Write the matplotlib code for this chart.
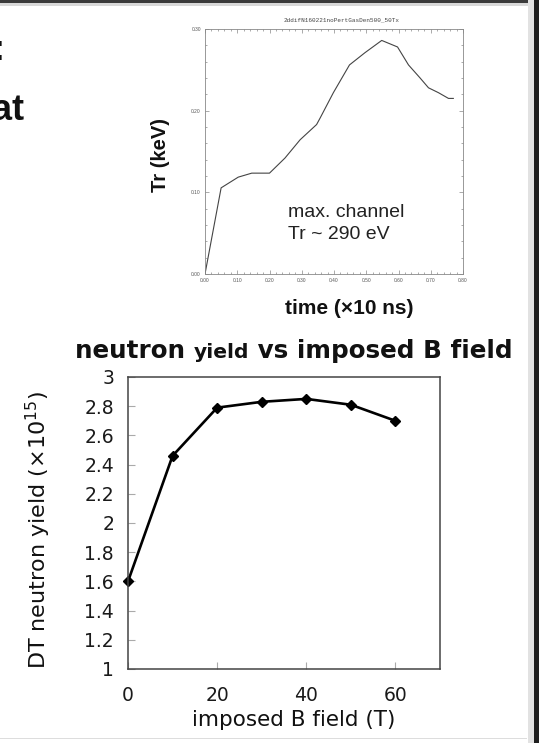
import matplotlib
matplotlib.use('Agg')
import matplotlib.pyplot as plt
from matplotlib.patches import Rectangle
from matplotlib.ticker import MultipleLocator, FormatStrFormatter
import numpy as np

plt.rcParams['font.family'] = ['Liberation Sans', 'DejaVu Sans']

# radiation temperature in the max. channel
time_10ns = [0.0, 0.05, 0.103, 0.145, 0.20, 0.248, 0.295, 0.346, 0.357, 0.398,
             0.448, 0.496, 0.548, 0.597, 0.631, 0.667, 0.693, 0.724, 0.755, 0.77]
tr_kev = [0.0, 0.1055, 0.1186, 0.1235, 0.1235, 0.142, 0.1644, 0.183, 0.191, 0.222,
          0.256, 0.271, 0.286, 0.278, 0.256, 0.240, 0.228, 0.222, 0.215, 0.215]

# neutron yield vs imposed field
b_field = [0, 10, 20, 30, 40, 50, 60]
dt_yield = [1.60, 2.46, 2.79, 2.83, 2.85, 2.81, 2.70]

W, H = 539, 743
fig = plt.figure(figsize=(W / 100, H / 100), dpi=100)


def fx(px):
    return px / W


def fy(py):
    return 1 - py / H


# ---- top panel (simulation output) ----
ax1 = fig.add_axes([fx(205), fy(274), fx(463) - fx(205), fy(29) - fy(274)])
ax1.plot(time_10ns, tr_kev, color='#444444', linewidth=0.8)
ax1.set_xlim(0, 0.8)
ax1.set_ylim(0, 0.3)
ax1.xaxis.set_major_locator(MultipleLocator(0.1))
ax1.xaxis.set_minor_locator(MultipleLocator(0.02))
ax1.yaxis.set_major_locator(MultipleLocator(0.1))
ax1.yaxis.set_minor_locator(MultipleLocator(0.02))
ax1.xaxis.set_major_formatter(FormatStrFormatter('%.2f'))
ax1.yaxis.set_major_formatter(FormatStrFormatter('%.2f'))
ax1.tick_params(which='both', direction='in', top=True, right=True,
                color='#888888', width=0.5, labelsize=3.5, labelcolor='#555555', pad=3)
ax1.tick_params(which='major', length=3)
ax1.tick_params(which='minor', length=1.5)
for s in ax1.spines.values():
    s.set_color('#888888')
    s.set_linewidth(0.6)
ax1.text((342 - 205) / 258, 1.037, '2ddifN160221noPertGasDen500_50Tx',
         transform=ax1.transAxes, ha='center', va='center',
         family='Liberation Mono', fontsize=4.3, color='#444444')
ax1.text(0.257, 0.070, 'max. channel', fontsize=14, color='#222222', va='baseline')
ax1.text(0.257, 0.043, 'Tr ~ 290 eV', fontsize=14, color='#222222', va='baseline')

fig.text(fx(160), fy(155), 'Tr (keV)', rotation=90, ha='center', va='center',
         fontsize=14.5, fontweight='bold', color='#111111')
fig.text(fx(349), fy(308), 'time (\u00d710 ns)', ha='center', va='center',
         fontsize=15, fontweight='bold', color='#111111')

# ---- bottom panel ----
wide = 'DejaVu Sans'
ax2 = fig.add_axes([fx(128), fy(669), fx(440) - fx(128), fy(377) - fy(669)])
ax2.plot(b_field, dt_yield, color='black', linewidth=1.9, marker='D',
         markersize=5.5, clip_on=False)
ax2.set_xlim(0, 70)
ax2.set_ylim(1, 3)
ax2.set_xticks([0, 20, 40, 60])
ax2.set_yticks(np.arange(1, 3.01, 0.2))
ax2.yaxis.set_major_formatter(plt.FuncFormatter(lambda v, p: f'{v:g}'))
ax2.tick_params(direction='in', length=5, width=0.8, color='#aaaaaa',
                labelsize=13.5, labelcolor='#1a1a1a', pad=10)
ax2.tick_params(axis='x', pad=12)
for lab in ax2.get_xticklabels() + ax2.get_yticklabels():
    lab.set_family(wide)
for s in ax2.spines.values():
    s.set_color('#444444')
    s.set_linewidth(1.1)
ax2.set_xlabel('imposed B field (T)', fontsize=15.5, color='#111111', family=wide)
ax2.xaxis.set_label_coords((294 - 128) / 312, (669 - 720) / 292)
ax2.xaxis.label.set_va('center')
ax2.set_ylabel('DT neutron yield (\u00d710$^{15}$)', fontsize=16, color='#111111',
               family=wide)
ax2.yaxis.set_label_coords((38 - 128) / 312, (669 - 530) / 292)
ax2.yaxis.label.set_va('center')

# title with smaller "yield"
fig.canvas.draw()
r = fig.canvas.get_renderer()
x0 = fx(75)
yb = fy(358)
parts = [('neutron ', 17.7), ('yield', 14.6), (' vs imposed B field', 17.7)]
for txt, fs in parts:
    t = fig.text(x0, yb, txt, fontsize=fs, fontweight='bold', color='#111111',
                 ha='left', va='baseline', family=wide)
    bb = t.get_window_extent(renderer=r)
    x0 = bb.x1 / fig.bbox.width

# clipped slide text at left edge
fig.text(fx(5), fy(60), ':', fontsize=26, fontweight='bold', ha='right',
         va='baseline', color='#111111')
fig.text(fx(24), fy(120), 'at', fontsize=26, fontweight='bold', ha='right',
         va='baseline', color='#111111')

# screenshot frame
fig.add_artist(Rectangle((0, fy(3)), 1, 3 / H, transform=fig.transFigure,
                         color='#3a3a3a', lw=0))
fig.add_artist(Rectangle((0, fy(6)), 1, 3 / H, transform=fig.transFigure,
                         color='#d8d8d8', lw=0))
fig.add_artist(Rectangle((fx(528), 0), 6 / W, 1, transform=fig.transFigure,
                         color='#e2e2e2', lw=0))
fig.add_artist(Rectangle((fx(534), 0), 5 / W, 1, transform=fig.transFigure,
                         color='#1e1e1e', lw=0))
fig.add_artist(Rectangle((0, fy(739)), fx(527), 1.2 / H, transform=fig.transFigure,
                         color='#dddddd', lw=0))

fig.savefig('out.png', dpi=100)
